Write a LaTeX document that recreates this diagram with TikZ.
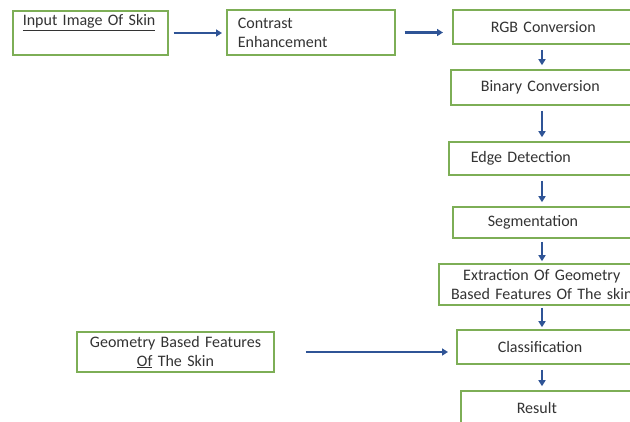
\documentclass[tikz,border=0pt]{standalone}
\usepackage{fontspec}
\setmainfont{Carlito}
\usetikzlibrary{arrows.meta}
\definecolor{boxgreen}{HTML}{7DAE56}
\definecolor{flowblue}{HTML}{2F5496}
\definecolor{inkgray}{HTML}{333333}

\begin{document}
\begin{tikzpicture}[x=1pt, y=-1pt,
    stage/.style={draw=boxgreen, line width=1.6pt, text=inkgray, font=\fontsize{16}{19}\selectfont,
        align=left, text width=200pt, anchor=west},
    flow/.style={-{Triangle[length=6pt,width=7pt]}, draw=flowblue, line width=2.4pt,
        shorten <=5pt, shorten >=4pt}]
    \useasboundingbox (0,0) rectangle (630,421);
    \clip (0,0) rectangle (630,421);
    \fill[white] (0,0) rectangle (630,421);

    \node[stage, inner xsep=10pt, inner ysep=2pt, text width=135pt, text depth=26pt, minimum height=44pt] (input) at (12,33) {\underline{Input Image Of Skin}};
    \node[stage, inner xsep=11pt, text width=146pt, minimum height=45pt] (contrast) at (226,32.5) {Contrast\\Enhancement};
    \node[stage, inner xsep=38pt, minimum height=34pt] (rgb) at (452,27) {RGB Conversion};
    \node[stage, inner xsep=30pt, minimum height=35pt] (binary) at (450,87.5) {Binary Conversion};
    \node[stage, inner xsep=22pt, minimum height=33pt] (edge) at (448,158.5) {Edge Detection};
    \node[stage, inner xsep=35pt, minimum height=31pt] (seg) at (452,222.5) {Segmentation};
    \node[stage, align=center, inner xsep=0pt, text width=206pt, minimum height=41pt] (extract) at (438,284.5) {Extraction Of Geometry\\Based Features Of The skin};
    \node[stage, inner xsep=41pt, minimum height=34pt] (classify) at (456,347) {Classification};
    \node[stage, inner xsep=56pt, minimum height=34pt] (result) at (460,408) {Result};
    \node[stage, align=center, anchor=center, inner xsep=4pt, text width=189pt, minimum height=40pt] (geomfeat) at (175.5,352) {Geometry Based Features\\\underline{Of} The Skin};

    % main flow
    \coordinate (spine) at (542,0);
    \draw[flow] (input.east) -- (input.east -| contrast.west);
    \draw[flow, shorten <=9pt, shorten >=9pt] (contrast.east) -- (contrast.east -| rgb.west);
    \draw[flow] (spine |- rgb.south) -- (spine |- binary.north);
    \draw[flow] (spine |- binary.south) -- (spine |- edge.north);
    \draw[flow] (spine |- edge.south) -- (spine |- seg.north);
    \draw[flow, shorten <=3pt, shorten >=2pt] (spine |- seg.south) -- (spine |- extract.north);
    \draw[flow, shorten <=2pt, shorten >=2pt] (spine |- extract.south) -- (spine |- classify.north);
    \draw[flow] (spine |- classify.south) -- (spine |- result.north);
    \draw[flow, shorten <=31pt, shorten >=8pt] (geomfeat.east) -- (geomfeat.east -| classify.west);
\end{tikzpicture}
\end{document}
